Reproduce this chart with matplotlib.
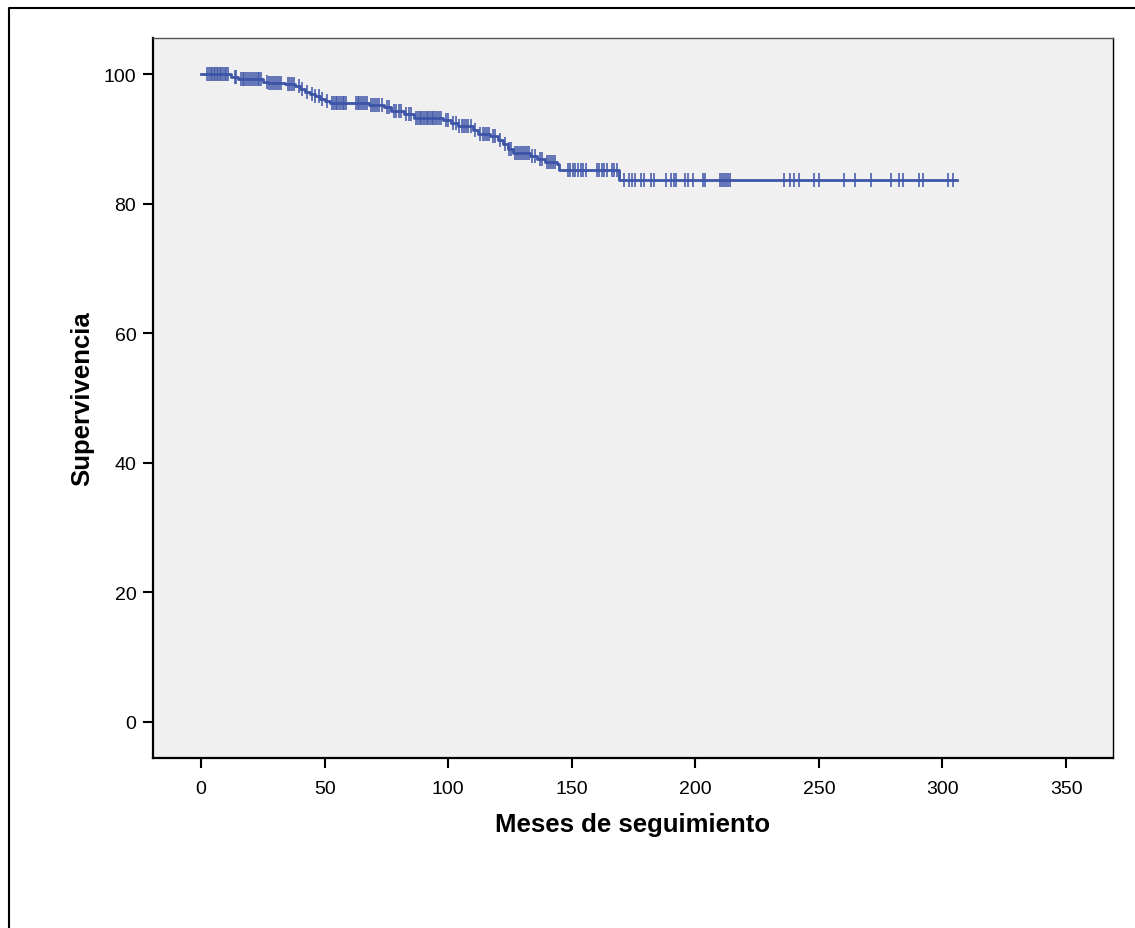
import numpy as np
import matplotlib
matplotlib.use("Agg")
import matplotlib.pyplot as plt
from matplotlib.lines import Line2D

# ==========================================
# Datos: curva de Kaplan-Meier
# ==========================================
# tiempos de los escalones (meses) y supervivencia (%) a partir de cada uno
step_time = [0, 12, 15, 25, 27, 34, 38, 40, 42, 44, 46, 48, 50, 52, 68, 74, 77,
             82, 86, 98, 101, 104, 110, 112, 117, 120, 122, 124, 126, 133, 136,
             139, 144, 145, 169]
step_surv = [100, 99.5, 99.2, 98.8, 98.6, 98.5, 98.2, 97.7, 97.3, 97.0, 96.7,
             96.2, 95.9, 95.6, 95.2, 94.9, 94.3, 93.8, 93.3, 92.9, 92.4, 92.0,
             91.4, 90.8, 90.5, 89.9, 89.2, 88.4, 87.9, 87.4, 86.9, 86.4, 86.1,
             85.2, 83.6]
end_time = 306

# casos censurados (meses)
censored = [
    2.5, 3.2, 3.8, 4.4, 5.0, 5.6, 6.3, 6.9, 7.5, 8.2, 8.8, 9.5, 10.2, 10.9,
    13.5, 14.2, 16.0, 16.8, 17.5, 18.3, 19.0, 19.8, 20.5, 21.3, 22.0, 22.8, 23.5, 24.3,
    26.5, 27.5, 28.3, 29.0, 30.0, 30.8, 31.6, 32.5,
    35.0, 35.8, 36.6, 37.4,
    39.5, 41.0, 43.0, 45.0, 46.0, 47.5, 49.0, 51.0,
    53.0, 53.7, 54.4, 55.1, 55.8, 56.5, 57.2, 57.9, 58.6,
    62.5, 63.3, 64.0, 64.8, 65.5, 66.3, 67.0,
    68.8, 69.6, 70.4, 71.2, 72.0, 73.0,
    75, 76, 78, 79, 80, 81, 83, 84, 85,
    87.0, 87.7, 88.4, 89.1, 89.8, 90.5, 91.2, 91.9, 92.6, 93.3, 94.0, 94.7, 95.4, 96.2, 97.0,
    99, 100, 102, 103, 104.5, 105.5, 106.3, 107, 108, 109,
    111, 113, 114, 115, 115.8, 116.5, 118, 119, 121, 123,
    124.5, 125.3, 127, 127.8, 128.6, 129.4, 130.2, 131, 131.8, 132.6,
    134, 135, 137, 138, 140, 140.8, 141.6, 142.4, 143.2,
    148.3, 149.4, 150.5, 151.4, 152.5, 153.7, 154.7, 155.9,
    160.2, 161.1, 162.2, 163.2, 164.2, 166.3, 167.2, 168.3,
    171.0, 173.3, 174.4, 175.7, 178.0, 179.1, 182.1, 183.1, 188.1, 190.3,
    191.2, 192.3, 195.9, 197.0, 199.0, 203.1, 204.0, 210.1, 210.8, 211.5,
    212.4, 213.2, 214.2, 236.0, 238.1, 240.1, 242.1, 248.2, 250.1, 260.3,
    264.4, 271.1, 279.2, 282.3, 284.1, 290.4, 292.2, 302.1, 304.1,
]

x_ticks = [0, 50, 100, 150, 200, 250, 300, 350]
y_ticks = [0, 20, 40, 60, 80, 100]

BLUE = '#3d55a8'

plt.rcParams['font.family'] = ['Liberation Sans', 'DejaVu Sans']

fig = plt.figure(figsize=(11.35, 9.29), dpi=100)
ax = fig.add_axes([153 / 1135, 1 - 759 / 929, 960 / 1135, 720 / 929])
ax.set_facecolor('#f0f0f0')

# curva escalonada
t = np.array(step_time + [end_time], dtype=float)
s = np.array(step_surv + [step_surv[-1]], dtype=float)
ax.step(t, s, where='post', color=BLUE, linewidth=2.0, zorder=3)

# marcas de censura sobre la curva
cens = np.array(censored)
idx = np.searchsorted(step_time, cens, side='right') - 1
cens_y = np.array(step_surv)[idx]
ax.plot(cens, cens_y, linestyle='none', marker='|', markersize=10,
        markeredgewidth=1.3, color=BLUE, alpha=0.85, zorder=4)

ax.set_xlim(-19.5, 369)
ax.set_ylim(-5.6, 105.6)
ax.set_xticks(x_ticks)
ax.set_yticks(y_ticks)
ax.tick_params(direction='out', length=7, width=1.5, labelsize=14,
               colors='black', pad=5)
ax.tick_params(axis='x', pad=9)

for side in ['left', 'bottom']:
    ax.spines[side].set_linewidth(1.6)
    ax.spines[side].set_color('black')
ax.spines['top'].set_linewidth(1.0)
ax.spines['top'].set_color('#555555')
ax.spines['right'].set_linewidth(1.0)
ax.spines['right'].set_color('black')

ax.set_xlabel('Meses de seguimiento', fontsize=18.5, fontweight='bold', labelpad=11)
ax.set_ylabel('Supervivencia', fontsize=18.5, fontweight='bold', labelpad=7)

# borde del marco (arriba e izquierda)
bx = 8.5 / 1135
by = 1 - 8.5 / 929
fig.add_artist(Line2D([bx, bx, 1], [0, by, by], transform=fig.transFigure,
                      color='black', linewidth=1.5))

fig.savefig('out.png', dpi=100)
